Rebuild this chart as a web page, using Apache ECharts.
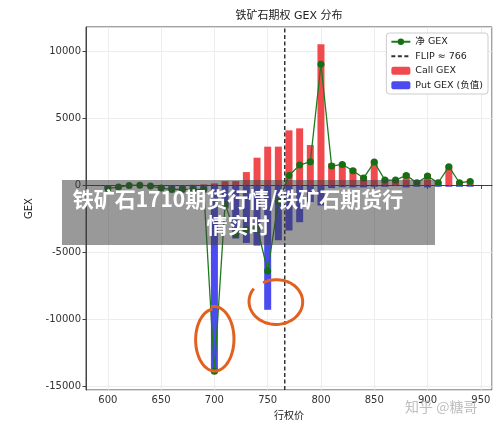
<!DOCTYPE html>
<html><head><meta charset="utf-8">
<script src="https://cdn.jsdelivr.net/npm/echarts@6/dist/echarts.min.js"></script>
<style>html,body{margin:0;padding:0;background:#fff}#c{width:500px;height:428px}</style>
</head><body><div id="c"></div>
<script>
// ---- data ----
const strikes = [600,610,620,630,640,650,660,670,680,690,700,710,720,730,740,750,760,770,780,790,800,810,820,830,840,850,860,870,880,890,900,910,920,930,940];
const callGex = [0,0,10,30,20,10,20,30,50,80,150,320,320,1000,2075,2900,2900,4120,4270,3020,10560,1650,1700,1250,700,1850,500,450,900,300,850,300,1500,300,400];
const putGex  = [-220,-120,-10,-10,-70,-210,-320,-330,-350,-380,-14050,-1720,-3970,-4300,-4500,-9300,-4100,-3370,-2750,-1245,-1500,-200,-130,-150,-150,-100,-100,-50,-150,-100,-150,-100,-100,-100,-100];
const netGex  = [-220,-120,0,20,-50,-200,-300,-300,-300,-300,-13900,-1400,-3650,-3300,-3100,-6400,-1200,750,1520,1775,9060,1450,1570,1100,550,1750,400,400,750,200,700,200,1400,200,300];
const flipStrike = 766;
const titleText = '铁矿石期权 GEX 分布';
const xName = '行权价';
const yName = 'GEX';
const seriesNames = ['净 GEX', 'FLIP ≈ 766', 'Call GEX', 'Put GEX (负值)'];
const bannerLines = ['铁矿石1710期货行情/铁矿石期货行', '情实时'];
const watermark = '知乎 @糖哥';
const circledStrikes = [700, 750];

// ---- chart ----
const FONT = '"DejaVu Sans", "Noto Sans CJK SC", sans-serif';
const xMin = 579.5, xMax = 960.5;
const yMin = -15300, yMax = 11850;
const pairs = arr => strikes.map((s, i) => [s, arr[i]]);

const chart = echarts.init(document.getElementById('c'), null, {renderer: 'canvas'});
chart.setOption({
  animation: false,
  backgroundColor: '#fff',
  textStyle: {fontFamily: FONT},
  title: {
    text: titleText, left: 289, top: 11, padding: 0, textAlign: 'center',
    textStyle: {fontSize: 11, fontWeight: 'normal', color: '#222', fontFamily: FONT}
  },
  grid: {left: 86, right: 8, top: 27, bottom: 38, show: true, borderColor: '#444', borderWidth: 1, backgroundColor: 'transparent'},
  legend: {
    data: [
      {name: seriesNames[0]},
      {name: seriesNames[1], itemStyle: {opacity: 0}},
      {name: seriesNames[2]},
      {name: seriesNames[3]}
    ],
    orient: 'vertical', right: 12, top: 33,
    backgroundColor: '#fff', borderColor: '#ccc', borderWidth: 1, borderRadius: 3,
    padding: [4, 5, 4, 4], itemGap: 5, itemWidth: 19, itemHeight: 8,
    textStyle: {fontSize: 9.5, color: '#222', fontFamily: FONT}
  },
  xAxis: {
    type: 'value', min: xMin, max: xMax, splitNumber: 8,
    name: xName, nameLocation: 'middle', nameGap: 21,
    nameTextStyle: {fontSize: 10, color: '#222', fontFamily: FONT},
    axisLine: {show: true, lineStyle: {color: '#444'}},
    axisTick: {show: true, length: 3.5, lineStyle: {color: '#444'}},
    axisLabel: {fontSize: 10, color: '#333', margin: 5, showMinLabel: false, showMaxLabel: false, fontFamily: FONT,
                formatter: v => String(v)},
    splitLine: {show: true, lineStyle: {color: '#e8e8e8', width: 0.8}}
  },
  yAxis: {
    type: 'value', min: yMin, max: yMax, splitNumber: 5,
    name: yName, nameLocation: 'middle', nameGap: 41,
    nameTextStyle: {fontSize: 10, color: '#222', fontFamily: FONT},
    axisLine: {show: true, lineStyle: {color: '#444'}},
    axisTick: {show: true, length: 3.5, lineStyle: {color: '#444'}},
    axisLabel: {fontSize: 10, color: '#333', margin: 5, showMinLabel: false, showMaxLabel: false, fontFamily: FONT,
                formatter: v => String(v)},
    splitLine: {show: true, lineStyle: {color: '#e8e8e8', width: 0.8}}
  },
  series: [
    {
      name: seriesNames[2], type: 'bar', data: pairs(callGex), barWidth: 7, barGap: '-100%',
      itemStyle: {color: '#F04A4E'}, z: 1
    },
    {
      name: seriesNames[3], type: 'bar', data: pairs(putGex), barWidth: 7, barGap: '-100%',
      itemStyle: {color: '#4B4BEF'}, z: 1
    },
    {
      name: seriesNames[1], type: 'line', data: [[flipStrike, yMin], [flipStrike, yMax]],
      symbol: 'none', lineStyle: {color: '#333', width: 1.5, type: [4, 2.5]}, itemStyle: {color: '#333'}, z: 4
    },
    {
      name: seriesNames[0], type: 'line', data: pairs(netGex),
      symbol: 'circle', symbolSize: 7, showSymbol: true,
      lineStyle: {color: '#1d7a1d', width: 1.3}, itemStyle: {color: '#157015'}, z: 5,
      markLine: {
        silent: true, symbol: 'none', label: {show: false},
        lineStyle: {color: '#333', width: 0.8, type: [3, 2]},
        data: [{yAxis: 0}]
      }
    }
  ]
});

// ---- overlays: hand-drawn circles (placed at strikes via the axes), banner, watermark ----
function loop(cx, cy, rx, ry, a0, a1, drift) {
  const pts = [];
  const n = 60;
  for (let k = 0; k <= n; k++) {
    const t = a0 + (a1 - a0) * k / n;
    const r = 1 + drift * k / n;
    pts.push([cx + rx * r * Math.cos(t), cy + ry * r * Math.sin(t)]);
  }
  return pts;
}
const c1 = chart.convertToPixel({gridIndex: 0}, [circledStrikes[0], -11520]);
const c2 = chart.convertToPixel({gridIndex: 0}, [circledStrikes[1] + 8, -8700]);
const orange = '#E2611F';
chart.setOption({
  graphic: [
    {type: 'polyline', z: 50, shape: {points: loop(c1[0], c1[1], 20, 33, -1.75, 4.6, -0.08), smooth: 0.3},
     style: {stroke: orange, lineWidth: 3, fill: null}},
    {type: 'polyline', z: 50, shape: {points: loop(c2[0], c2[1], 26, 22, -2.1, 3.75, 0.05), smooth: 0.3},
     style: {stroke: orange, lineWidth: 3, fill: null}},
    {type: 'rect', z: 60, shape: {x: 62, y: 180, width: 373, height: 65},
     style: {fill: 'rgba(60,60,60,0.52)'}},
    {type: 'text', z: 61, x: 238, y: 199,
     style: {text: bannerLines[0], fill: '#fff', font: 'bold 21px "Noto Sans CJK SC", sans-serif', textAlign: 'center', textVerticalAlign: 'middle'}},
    {type: 'text', z: 61, x: 238, y: 225,
     style: {text: bannerLines[1], fill: '#fff', font: 'bold 21px "Noto Sans CJK SC", sans-serif', textAlign: 'center', textVerticalAlign: 'middle'}},
    {type: 'text', z: 62, x: 405, y: 407,
     style: {text: watermark, fill: 'rgba(170,170,170,0.75)', font: '14px "Noto Sans CJK SC", sans-serif', textAlign: 'left', textVerticalAlign: 'middle'}}
  ]
});
</script>
</body></html>
